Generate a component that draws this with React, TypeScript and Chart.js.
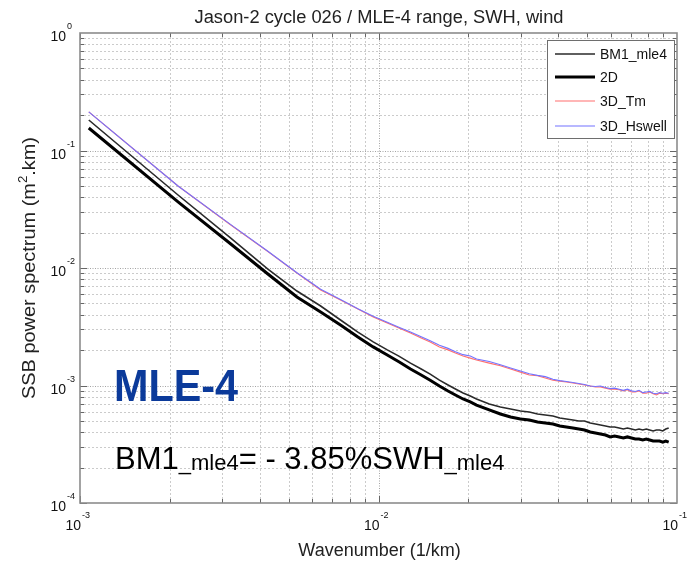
import React, { useEffect, useRef } from "react";
import { Chart, registerables } from "chart.js";

Chart.register(...registerables);

// Wavenumber (1/km)
const wavenumber = [
  0.00107, 0.00213, 0.0032, 0.00426, 0.00533, 0.0064, 0.00746, 0.00853, 0.0096, 0.0107,
  0.0117, 0.0128, 0.0139, 0.0149, 0.016, 0.0171, 0.0181, 0.0192, 0.0203, 0.0213,
  0.0235, 0.0256, 0.0277, 0.0299, 0.032, 0.0341, 0.0362, 0.0384, 0.0405, 0.0426,
  0.0448, 0.0469, 0.049, 0.0512, 0.0533, 0.0554, 0.0576, 0.0597, 0.0618, 0.064,
  0.0661, 0.0682, 0.0704, 0.0725, 0.0746, 0.0768, 0.0789, 0.081, 0.0832, 0.0853,
  0.0874, 0.0896, 0.0917, 0.0938,
];

// SSB power spectrum (m^2.km)
const bm1Mle4 = [
  0.1818, 0.0418, 0.018, 0.0098, 0.00637, 0.00475, 0.00361, 0.00285, 0.00235, 0.00201,
  0.00178, 0.00155, 0.00138, 0.00125, 0.00111, 0.00101, 0.000934, 0.000864, 0.000814, 0.000768,
  0.000696, 0.000656, 0.000631, 0.000607, 0.000595, 0.000572, 0.000561, 0.00055, 0.000529, 0.000519,
  0.000509, 0.000499, 0.000499, 0.00048, 0.00047, 0.000461, 0.000452, 0.000443, 0.000443, 0.000435,
  0.000426, 0.000435, 0.000426, 0.000418, 0.000426, 0.000418, 0.000426, 0.000418, 0.00041, 0.000418,
  0.000418, 0.00041, 0.000426, 0.000435,
];

const spec2D = [
  0.1554, 0.0365, 0.016, 0.00889, 0.00567, 0.00422, 0.00327, 0.00259, 0.00213, 0.00182,
  0.00159, 0.00138, 0.00123, 0.00111, 0.00099, 0.000898, 0.00083, 0.000768, 0.000724, 0.000682,
  0.000619, 0.000572, 0.000539, 0.000519, 0.000509, 0.000489, 0.00048, 0.00047, 0.000452, 0.000443,
  0.000435, 0.000426, 0.000418, 0.000402, 0.000394, 0.000387, 0.000379, 0.000365, 0.000372, 0.000365,
  0.000357, 0.000365, 0.000357, 0.00035, 0.00035, 0.000344, 0.00035, 0.000344, 0.000337, 0.000337,
  0.000337, 0.00033, 0.000337, 0.00033,
];

const spec3DTm = [
  0.213, 0.0499, 0.0232, 0.0138, 0.00907, 0.0065, 0.00534, 0.00448, 0.00383, 0.0034,
  0.00309, 0.0028, 0.00254, 0.00235, 0.00213, 0.00201, 0.00189, 0.00178, 0.00171, 0.00165,
  0.00155, 0.00147, 0.00138, 0.0013, 0.00123, 0.00121, 0.00116, 0.00111, 0.00109, 0.00107,
  0.00105, 0.00103, 0.00101, 0.00099, 0.00097, 0.00097, 0.00095, 0.00093, 0.00093, 0.00092,
  0.0009, 0.00092, 0.00088, 0.00088, 0.0009, 0.00086, 0.00086, 0.00088, 0.00085, 0.00083,
  0.00086, 0.00085, 0.00086, 0.00085,
];

const spec3DHswell = [
  0.213, 0.0499, 0.0234, 0.0139, 0.0091, 0.0066, 0.0054, 0.0045, 0.00388, 0.00345,
  0.00313, 0.00285, 0.0026, 0.0024, 0.0022, 0.00207, 0.00194, 0.00183, 0.00178, 0.00168,
  0.0016, 0.0015, 0.00141, 0.00133, 0.00126, 0.00122, 0.00119, 0.00113, 0.0011, 0.00108,
  0.00106, 0.00104, 0.00102, 0.00099, 0.00098, 0.00099, 0.00096, 0.00094, 0.00095, 0.00093,
  0.00091, 0.00093, 0.0009, 0.00089, 0.00091, 0.00087, 0.00088, 0.00089, 0.00086, 0.00085,
  0.00087, 0.00086, 0.00087, 0.00086,
];

const seriesNames = ["BM1_mle4", "2D", "3D_Tm", "3D_Hswell"];
const xTickExponents = [-3, -2, -1];
const yTickExponents = [0, -1, -2, -3, -4];

const titleText = "Jason-2 cycle 026 / MLE-4 range, SWH, wind";
const xAxisTitle = "Wavenumber (1/km)";
const yAxisTitleParts = ["SSB power spectrum (m", "2", ".km)"];
const annotationBig = "MLE-4";
const formulaParts = ["BM1", "_mle4", "= - 3.85%SWH", "_mle4"];

const FONT = '"Liberation Sans", Arial, Helvetica, sans-serif';

const seriesStyles = [
  { color: "#2a2a2a", width: 1.6 },
  { color: "#000000", width: 3.0 },
  { color: "#ff6f6f", width: 1.1 },
  { color: "#7373ff", width: 1.1 },
];

function fitText(ctx: CanvasRenderingContext2D, text: string, x: number, y: number, targetW: number) {
  const w = ctx.measureText(text).width;
  const s = targetW / w;
  ctx.save();
  ctx.translate(x, y);
  ctx.scale(s, 1);
  ctx.textAlign = "center";
  ctx.fillText(text, 0, 0);
  ctx.restore();
}

const decorPlugin = {
  id: "decor",
  beforeDraw(chart: any) {
    const ctx = chart.ctx;
    ctx.save();
    ctx.fillStyle = "#ffffff";
    ctx.fillRect(0, 0, chart.width, chart.height);
    ctx.restore();
  },
  beforeDatasetsDraw(chart: any) {
    const ctx: CanvasRenderingContext2D = chart.ctx;
    const a = chart.chartArea;
    const xs = chart.scales.x;
    const ys = chart.scales.y;
    ctx.save();
    ctx.lineWidth = 1;
    // vertical grid
    for (let e = -3; e <= -2; e++) {
      for (let m = 1; m <= 9; m++) {
        const v = m * Math.pow(10, e);
        if (m === 1 && e === -3) continue;
        const px = Math.round(xs.getPixelForValue(v)) + 0.5;
        ctx.strokeStyle = m === 1 ? "#a4a4a4" : "#cbcbcb";
        ctx.setLineDash(m === 1 ? [1, 1.5] : [2, 2]);
        ctx.beginPath();
        ctx.moveTo(px, a.top);
        ctx.lineTo(px, a.bottom);
        ctx.stroke();
      }
    }
    // horizontal grid
    for (let e = -4; e <= -1; e++) {
      for (let m = 1; m <= 9; m++) {
        const v = m * Math.pow(10, e);
        if (m === 1 && e === -4) continue;
        const py = Math.round(ys.getPixelForValue(v)) + 0.5;
        ctx.strokeStyle = m === 1 ? "#a4a4a4" : "#cbcbcb";
        ctx.setLineDash(m === 1 ? [1, 1.5] : [2, 2]);
        ctx.beginPath();
        ctx.moveTo(a.left, py);
        ctx.lineTo(a.right, py);
        ctx.stroke();
      }
    }
    ctx.restore();
  },
  afterDatasetsDraw(chart: any) {
    const ctx: CanvasRenderingContext2D = chart.ctx;
    const a = chart.chartArea;
    const xs = chart.scales.x;
    const ys = chart.scales.y;
    ctx.save();
    // tick marks
    ctx.strokeStyle = "#666";
    ctx.lineWidth = 1;
    ctx.setLineDash([]);
    for (let e = -3; e <= -2; e++) {
      for (let m = 1; m <= 9; m++) {
        const v = m * Math.pow(10, e);
        const px = Math.round(xs.getPixelForValue(v)) + 0.5;
        const len = m === 1 ? 7 : 4;
        ctx.beginPath();
        ctx.moveTo(px, a.bottom);
        ctx.lineTo(px, a.bottom - len);
        ctx.moveTo(px, a.top);
        ctx.lineTo(px, a.top + len);
        ctx.stroke();
      }
    }
    for (let e = -4; e <= -1; e++) {
      for (let m = 1; m <= 9; m++) {
        const v = m * Math.pow(10, e);
        const py = Math.round(ys.getPixelForValue(v)) + 0.5;
        const len = m === 1 ? 7 : 4;
        ctx.beginPath();
        ctx.moveTo(a.left, py);
        ctx.lineTo(a.left + len, py);
        ctx.moveTo(a.right, py);
        ctx.lineTo(a.right - len, py);
        ctx.stroke();
      }
    }
    // border
    ctx.strokeStyle = "#8c8c8c";
    ctx.lineWidth = 1.6;
    ctx.strokeRect(a.left, a.top, a.right - a.left, a.bottom - a.top);

    // tick labels
    ctx.fillStyle = "#111";
    for (const e of xTickExponents) {
      const px = xs.getPixelForValue(Math.pow(10, e));
      ctx.font = `14px ${FONT}`;
      ctx.textAlign = "right";
      ctx.fillText("10", px + 1, 530);
      ctx.font = `9px ${FONT}`;
      ctx.textAlign = "left";
      ctx.fillText(String(e), px + 2, 518);
    }
    for (const e of yTickExponents) {
      const py = ys.getPixelForValue(Math.pow(10, e));
      ctx.font = `14px ${FONT}`;
      ctx.textAlign = "right";
      ctx.fillText("10", 66, py + 8);
      ctx.font = `9px ${FONT}`;
      ctx.textAlign = "left";
      ctx.fillText(String(e), 67, py - 4);
    }

    // title
    ctx.fillStyle = "#222";
    ctx.font = `18px ${FONT}`;
    fitText(ctx, titleText, 379, 23, 369);

    // x title
    ctx.font = `18px ${FONT}`;
    ctx.textAlign = "center";
    ctx.fillText(xAxisTitle, (a.left + a.right) / 2 + 1, 556);

    // y title
    ctx.save();
    ctx.translate(35, (a.top + a.bottom) / 2);
    ctx.rotate(-Math.PI / 2);
    ctx.font = `18px ${FONT}`;
    const w1 = ctx.measureText(yAxisTitleParts[0]).width;
    const w3 = ctx.measureText(yAxisTitleParts[2]).width;
    ctx.font = `12px ${FONT}`;
    const w2 = ctx.measureText(yAxisTitleParts[1]).width;
    const total = w1 + w2 + w3;
    const s = 262 / total;
    ctx.scale(s, 1);
    let cx = -total / 2;
    ctx.textAlign = "left";
    ctx.font = `18px ${FONT}`;
    ctx.fillText(yAxisTitleParts[0], cx, 0);
    cx += w1;
    ctx.font = `12px ${FONT}`;
    ctx.fillText(yAxisTitleParts[1], cx, -8);
    cx += w2;
    ctx.font = `18px ${FONT}`;
    ctx.fillText(yAxisTitleParts[2], cx, 0);
    ctx.restore();

    // legend
    const lx = 547, ly = 40, lw = 127, lh = 98;
    ctx.fillStyle = "#fff";
    ctx.fillRect(lx, ly, lw, lh);
    ctx.strokeStyle = "#6e6e6e";
    ctx.lineWidth = 1;
    ctx.strokeRect(lx + 0.5, ly + 0.5, lw, lh);
    const rows = [54, 77, 101, 126];
    seriesNames.forEach((name, i) => {
      const st = seriesStyles[i];
      ctx.strokeStyle = st.color;
      ctx.lineWidth = st.width;
      ctx.beginPath();
      ctx.moveTo(555, rows[i]);
      ctx.lineTo(595, rows[i]);
      ctx.stroke();
      ctx.fillStyle = "#111";
      ctx.font = `14px ${FONT}`;
      ctx.textAlign = "left";
      ctx.textBaseline = "middle";
      ctx.fillText(name, 600, rows[i] + 1);
    });
    ctx.textBaseline = "alphabetic";

    // annotation MLE-4
    ctx.fillStyle = "#0b3a9a";
    ctx.font = `bold 44px ${FONT}`;
    fitText(ctx, annotationBig, 176, 401, 124);

    // formula
    ctx.fillStyle = "#000";
    ctx.textAlign = "left";
    let fx = 115;
    const base = 469;
    formulaParts.forEach((p, i) => {
      const sub = i % 2 === 1;
      ctx.font = sub ? `22px ${FONT}` : `31px ${FONT}`;
      ctx.fillText(p, fx, sub ? base + 1 : base);
      fx += ctx.measureText(p).width;
    });

    ctx.restore();
  },
};

export default function App() {
  const canvasRef = useRef<HTMLCanvasElement | null>(null);

  useEffect(() => {
    const canvas = canvasRef.current;
    if (!canvas) return;
    const seriesValues = [bm1Mle4, spec2D, spec3DTm, spec3DHswell];
    const orders = [3, 2, 1, 0];
    const chart = new Chart(canvas, {
      type: "line",
      data: {
        datasets: seriesValues.map((vals, i) => ({
          label: seriesNames[i],
          data: wavenumber.map((k, j) => ({ x: k, y: vals[j] })),
          borderColor: seriesStyles[i].color,
          borderWidth: seriesStyles[i].width,
          pointRadius: 0,
          tension: 0,
          fill: false,
          order: orders[i],
        })),
      },
      options: {
        animation: false,
        responsive: false,
        devicePixelRatio: 1,
        layout: { padding: { left: 80, right: 14, top: 33, bottom: 63 } },
        plugins: {
          legend: { display: false },
          title: { display: false },
          tooltip: { enabled: false },
        },
        scales: {
          x: { type: "logarithmic", min: 0.001, max: 0.1, display: false },
          y: { type: "logarithmic", min: 0.0001, max: 1, display: false },
        },
      },
      plugins: [decorPlugin],
    } as any);
    return () => chart.destroy();
  }, []);

  return (
    <div style={{ position: "absolute", left: 0, top: 0, width: 691, height: 566 }}>
      <canvas ref={canvasRef} width={691} height={566} style={{ width: 691, height: 566, display: "block" }} />
    </div>
  );
}
